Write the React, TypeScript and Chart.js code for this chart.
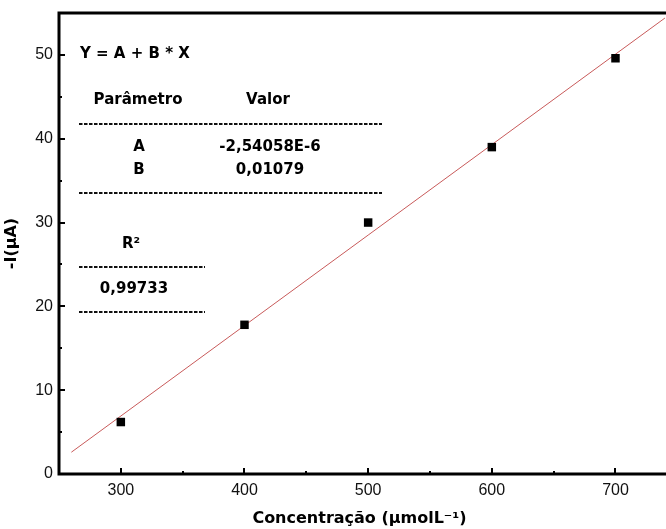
import React, { useEffect, useRef } from "react";
import { Chart, registerables } from "chart.js";

Chart.register(...registerables);

// ---- data ----
const concentrations = [300, 400, 500, 600, 700];
const currents = [6.2, 17.8, 30.0, 39.0, 49.6];
const fitX = [260, 740];
const fitY = [2.6, 54.4];
const xMajorTicks = [300, 400, 500, 600, 700];
const xMinorTicks = [350, 450, 550, 650];
const yMajorTicks = [0, 10, 20, 30, 40, 50];
const yMinorTicks = [5, 15, 25, 35, 45];
const xRange = [250, 736];
const yRange = [0, 55];

// ---- text ----
const xTitle = "Concentração (μmolL⁻¹)";
const yTitle = "-I(μA)";
const fitEquation = "Y = A + B * X";
const paramHeader = ["Parâmetro", "Valor"];
const paramNames = ["A", "B"];
const paramValues = ["-2,54058E-6", "0,01079"];
const r2Label = "R²";
const r2Value = "0,99733";

const BOLD = "bold 15px 'DejaVu Sans', sans-serif";

const framePlugin = {
  id: "frame",
  afterDraw(chart: any) {
    const { ctx, chartArea, scales } = chart;
    const { left, top, bottom } = chartArea;
    const right = chart.width;
    ctx.save();
    ctx.strokeStyle = "#000";
    ctx.lineWidth = 3;
    ctx.beginPath();
    ctx.moveTo(left, top);
    ctx.lineTo(left, bottom);
    ctx.moveTo(left - 1.5, bottom);
    ctx.lineTo(right, bottom);
    ctx.moveTo(left - 1.5, top);
    ctx.lineTo(right, top);
    ctx.stroke();

    ctx.lineWidth = 2;
    ctx.beginPath();
    const xs = scales.x;
    const ys = scales.y;
    xMajorTicks.forEach((v) => {
      const px = Math.round(xs.getPixelForValue(v));
      ctx.moveTo(px, bottom);
      ctx.lineTo(px, bottom - 6);
    });
    xMinorTicks.forEach((v) => {
      const px = Math.round(xs.getPixelForValue(v));
      ctx.moveTo(px, bottom);
      ctx.lineTo(px, bottom - 3);
    });
    yMajorTicks.forEach((v) => {
      const py = Math.round(ys.getPixelForValue(v));
      ctx.moveTo(left, py);
      ctx.lineTo(left + 6, py);
    });
    yMinorTicks.forEach((v) => {
      const py = Math.round(ys.getPixelForValue(v));
      ctx.moveTo(left, py);
      ctx.lineTo(left + 3, py);
    });
    ctx.stroke();

    // annotation box (fit report)
    const ox = left;
    const oy = top;
    ctx.fillStyle = "#000";
    ctx.font = BOLD;
    ctx.textBaseline = "middle";
    ctx.textAlign = "left";
    ctx.fillText(fitEquation, ox + 21, oy + 41);
    ctx.textAlign = "center";
    ctx.fillText(paramHeader[0], ox + 79, oy + 87);
    ctx.fillText(paramHeader[1], ox + 209, oy + 87);
    paramNames.forEach((n, i) => {
      ctx.fillText(n, ox + 80, oy + 134 + i * 23);
      ctx.fillText(paramValues[i], ox + 211, oy + 134 + i * 23);
    });
    ctx.fillText(r2Label, ox + 72, oy + 231);
    ctx.fillText(r2Value, ox + 75, oy + 276);

    ctx.setLineDash([3.5, 1.5]);
    ctx.lineWidth = 2;
    ctx.strokeStyle = "#111";
    ctx.beginPath();
    ctx.moveTo(ox + 20, oy + 111);
    ctx.lineTo(ox + 323, oy + 111);
    ctx.moveTo(ox + 20, oy + 180);
    ctx.lineTo(ox + 323, oy + 180);
    ctx.moveTo(ox + 20, oy + 254);
    ctx.lineTo(ox + 146, oy + 254);
    ctx.moveTo(ox + 20, oy + 299);
    ctx.lineTo(ox + 146, oy + 299);
    ctx.stroke();
    ctx.restore();
  },
};

const noPadding = (s: any) => {
  s.paddingTop = 0;
  s.paddingBottom = 0;
  s.paddingLeft = 0;
  s.paddingRight = 0;
};

export default function App() {
  const ref = useRef<HTMLCanvasElement | null>(null);

  useEffect(() => {
    if (!ref.current) return;
    const chart = new Chart(ref.current, {
      type: "scatter",
      data: {
        datasets: [
          {
            label: "data",
            data: concentrations.map((x, i) => ({ x, y: currents[i] })),
            pointStyle: "rect",
            pointRadius: 6,
            pointHoverRadius: 6,
            backgroundColor: "#000",
            borderColor: "#000",
            borderWidth: 0,
            showLine: false,
          },
          {
            label: "fit",
            data: fitX.map((x, i) => ({ x, y: fitY[i] })),
            showLine: true,
            borderColor: "#c85a5a",
            borderWidth: 1,
            pointRadius: 0,
            fill: false,
            clip: false,
          },
        ],
      },
      options: {
        animation: false,
        responsive: true,
        maintainAspectRatio: false,
        layout: { padding: { top: 13, right: 0, left: 0, bottom: 0 } },
        plugins: {
          legend: { display: false },
          tooltip: { enabled: false },
        },
        scales: {
          x: {
            type: "linear",
            min: xRange[0],
            max: xRange[1],
            grid: { display: false, drawTicks: false },
            border: { display: false },
            afterBuildTicks: (s: any) => {
              s.ticks = xMajorTicks.map((v) => ({ value: v }));
            },
            ticks: {
              autoSkip: false,
              maxRotation: 0,
              padding: 7,
              color: "#111",
              font: { family: "'Liberation Sans', Arial, sans-serif", size: 16 },
            },
            title: {
              display: true,
              text: xTitle,
              color: "#000",
              padding: { top: 0, bottom: 1 },
              font: { family: "'DejaVu Sans', sans-serif", size: 16, weight: "bold" },
            },
            afterFit: (s: any) => {
              s.height = 55;
              noPadding(s);
            },
          },
          y: {
            type: "linear",
            min: yRange[0],
            max: yRange[1],
            grid: { display: false, drawTicks: false },
            border: { display: false },
            afterBuildTicks: (s: any) => {
              s.ticks = yMajorTicks.map((v) => ({ value: v }));
            },
            ticks: {
              autoSkip: false,
              padding: 6,
              color: "#111",
              font: { family: "'Liberation Sans', Arial, sans-serif", size: 16 },
            },
            title: {
              display: true,
              text: yTitle,
              color: "#000",
              padding: { top: 2, bottom: 0 },
              font: { family: "'DejaVu Sans', sans-serif", size: 16, weight: "bold" },
            },
            afterFit: (s: any) => {
              s.width = 59;
              noPadding(s);
            },
          },
        },
      },
      plugins: [framePlugin],
    });
    return () => chart.destroy();
  }, []);

  return (
    <div
      style={{
        position: "fixed",
        left: 0,
        top: 0,
        width: 666,
        height: 529,
        background: "#fff",
      }}
    >
      <canvas ref={ref} />
    </div>
  );
}
